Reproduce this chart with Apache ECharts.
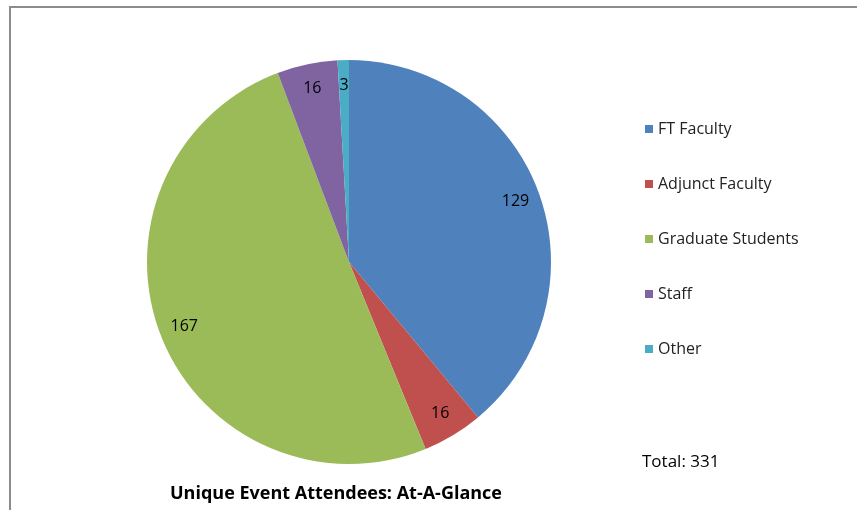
<!DOCTYPE html>
<html><head><meta charset="utf-8">
<script src="https://cdn.jsdelivr.net/npm/echarts@6/dist/echarts.min.js"></script>
<style>html,body{margin:0;padding:0;background:#fff}#c{width:857px;height:510px}</style>
</head><body><div id="c"></div>
<script>
var categories = ['FT Faculty', 'Adjunct Faculty', 'Graduate Students', 'Staff', 'Other'];
var values = [129, 16, 167, 16, 3];
var colors = ['#4F81BD', '#C0504D', '#9BBB59', '#8064A2', '#4BACC6'];
var titleText = 'Unique Event Attendees: At-A-Glance';
var totalText = 'Total: 331';

var data = categories.map(function (c, i) { return { name: c, value: values[i] }; });
var font = '"Open Sans", "Noto Sans", sans-serif';
var chart = echarts.init(document.getElementById('c'));
chart.setOption({
  animation: false,
  color: colors,
  title: {
    text: titleText, left: 336, top: 485, textAlign: 'center', padding: 0,
    textStyle: { fontFamily: font, fontSize: 18, fontWeight: 'bold', color: '#000' }
  },
  graphic: [
    { type: 'rect', shape: { x: 10, y: 7, width: 900, height: 600 }, style: { fill: 'none', stroke: '#8c8c8c', lineWidth: 2 }, silent: true },
    { type: 'text', left: 642, top: 454, style: { text: totalText, font: '17px "Open Sans", sans-serif', fill: '#000' } }
  ],
  legend: {
    orient: 'vertical', left: 645, top: 119, padding: 0, itemWidth: 8, itemHeight: 8, itemGap: 35,
    icon: 'rect',
    textStyle: { fontFamily: font, fontSize: 16, color: '#222', lineHeight: 20 },
    data: categories
  },
  series: [
    {
      type: 'pie', center: [349, 262], radius: [0, 202], startAngle: 90, clockwise: true,
      label: { show: false }, labelLine: { show: false }, silent: true,
      itemStyle: { borderWidth: 0 },
      data: data
    },
    {
      type: 'pie', center: [349, 262], radius: [146, 202], startAngle: 90, clockwise: true,
      silent: true, legendHoverLink: false,
      itemStyle: { color: 'rgba(0,0,0,0)', borderWidth: 0 },
      label: { show: true, position: 'inside', formatter: '{c}', fontFamily: font, fontSize: 16, color: '#000' },
      labelLine: { show: false },
      emphasis: { disabled: true },
      data: data
    }
  ]
});
</script></body></html>
